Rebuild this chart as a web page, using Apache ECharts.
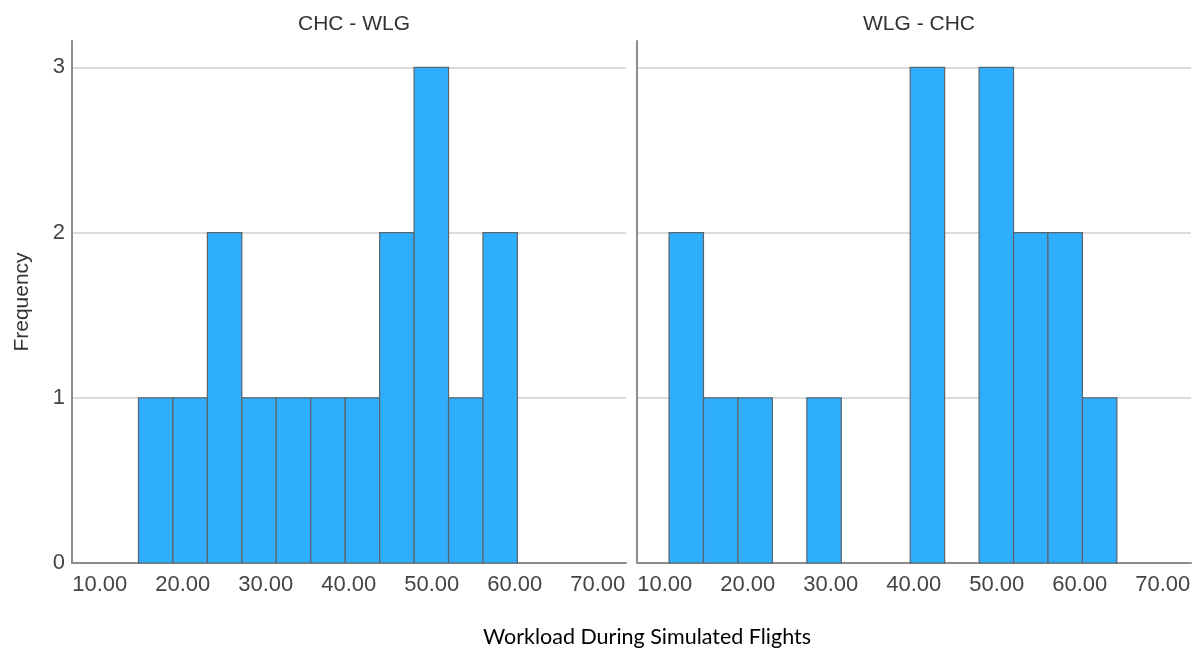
<!DOCTYPE html>
<html>
<head>
<meta charset="utf-8">
<script src="https://cdn.jsdelivr.net/npm/echarts@6/dist/echarts.min.js"></script>
<style>
  html, body { margin: 0; padding: 0; background: #ffffff; }
  #chart { width: 1202px; height: 660px; }
</style>
</head>
<body>
<div id="chart"></div>
<script>
// Histogram bin edges shared by both panels (13 bins)
const binEdges = [10.52, 14.67, 18.82, 22.97, 27.12, 31.27, 35.42, 39.57, 43.72, 47.87, 52.02, 56.17, 60.32, 64.47];
// Frequencies per bin
const chcWlgCounts = [0, 1, 1, 2, 1, 1, 1, 1, 2, 3, 1, 2, 0];
const wlgChcCounts = [2, 1, 1, 0, 1, 0, 0, 3, 0, 3, 2, 2, 1];
const panelTitles = ['CHC - WLG', 'WLG - CHC'];
const xTickValues = [10, 20, 30, 40, 50, 60, 70];
const xAxisTitle = 'Workload During Simulated Flights';
const yAxisTitle = 'Frequency';

const FONT = 'Liberation Sans';
const AXIS_COLOR = '#8c8c8c';
const LABEL_COLOR = '#444444';

function binRows(counts) {
  const rows = [];
  counts.forEach((c, i) => {
    if (c > 0) rows.push([binEdges[i], binEdges[i + 1], c]);
  });
  return rows;
}

function renderBar(params, api) {
  const p0 = api.coord([api.value(0), 0]);
  const p1 = api.coord([api.value(1), api.value(2)]);
  return {
    type: 'rect',
    shape: { x: p0[0], y: p1[1], width: p1[0] - p0[0], height: p0[1] - p1[1] },
    style: { fill: '#30aefe', stroke: '#5b646b', lineWidth: 1.2 }
  };
}

const grids = [
  { left: 72, top: 41, width: 554, height: 522 },
  { left: 637, top: 41, width: 554, height: 522 }
];

function xAxisFor(i) {
  return {
    gridIndex: i,
    type: 'value',
    min: 6.66,
    max: 73.4,
    axisLine: { show: true, lineStyle: { color: AXIS_COLOR, width: 2 } },
    axisTick: { show: false },
    splitLine: { show: false },
    axisLabel: {
      customValues: xTickValues,
      formatter: v => v.toFixed(2),
      color: LABEL_COLOR,
      fontFamily: FONT,
      fontSize: 22,
      margin: 11
    }
  };
}

function yAxisFor(i) {
  return {
    gridIndex: i,
    type: 'value',
    min: 0,
    max: 3.16,
    interval: 1,
    axisLine: { show: true, lineStyle: { color: AXIS_COLOR, width: 2 } },
    axisTick: { show: false },
    splitLine: {
      show: true,
      showMinLine: false,
      showMaxLine: false,
      lineStyle: { color: '#cfcfcf', width: 1.5 }
    },
    axisLabel: {
      show: i === 0,
      showMaxLabel: false,
      color: LABEL_COLOR,
      fontFamily: FONT,
      fontSize: 22,
      margin: 7
    }
  };
}

const chart = echarts.init(document.getElementById('chart'), null, { renderer: 'canvas' });
chart.setOption({
  animation: false,
  backgroundColor: '#ffffff',
  title: panelTitles.map((t, i) => ({
    text: t,
    left: grids[i].left + grids[i].width / 2,
    top: 9,
    textAlign: 'center',
    textStyle: { fontFamily: FONT, fontSize: 21, fontWeight: 'normal', color: '#333333' }
  })),
  grid: grids,
  xAxis: [xAxisFor(0), xAxisFor(1)],
  yAxis: [yAxisFor(0), yAxisFor(1)],
  series: [
    { type: 'custom', xAxisIndex: 0, yAxisIndex: 0, renderItem: renderBar, data: binRows(chcWlgCounts), encode: { x: [0, 1], y: 2 } },
    { type: 'custom', xAxisIndex: 1, yAxisIndex: 1, renderItem: renderBar, data: binRows(wlgChcCounts), encode: { x: [0, 1], y: 2 } }
  ],
  graphic: [
    {
      type: 'text',
      x: 22,
      y: 302,
      rotation: Math.PI / 2,
      style: {
        text: yAxisTitle,
        fontFamily: FONT,
        fontSize: 21,
        fill: '#333333',
        align: 'center',
        verticalAlign: 'middle'
      }
    },
    {
      type: 'text',
      x: 647,
      y: 637,
      style: {
        text: xAxisTitle,
        fontFamily: 'Lato',
        fontSize: 21.5,
        fill: '#000000',
        align: 'center',
        verticalAlign: 'middle'
      }
    }
  ]
});
</script>
</body>
</html>
